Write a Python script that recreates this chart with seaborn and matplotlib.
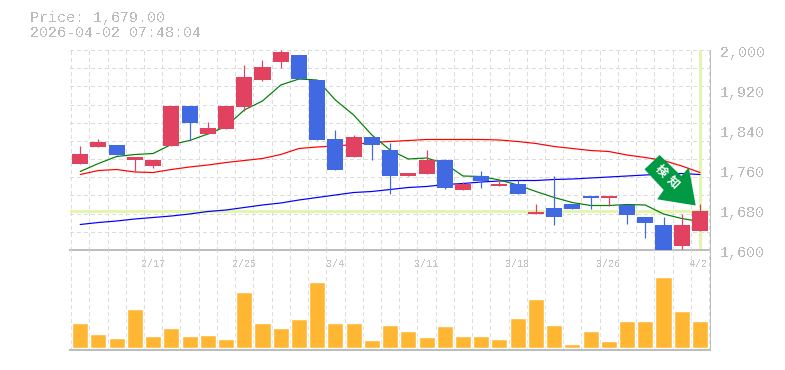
import numpy as np
import pandas as pd
import matplotlib
matplotlib.use("Agg")
import matplotlib.pyplot as plt
from matplotlib.patches import Polygon
from matplotlib.transforms import ScaledTranslation
import seaborn as sns

title_lines = ["Price: 1,679.00", "2026-04-02 07:48:04"]
last_price = 1679
price_ticks = [2000, 1920, 1840, 1760, 1680, 1600]
date_idx = [4, 9, 14, 19, 24, 29, 34]
date_labels = ["2/17", "2/25", "3/4", "3/11", "3/18", "3/26", "4/2"]

opens = [1772, 1806, 1810, 1780, 1768, 1808, 1888, 1832, 1842, 1886, 1940, 1976,
         1990, 1940, 1822, 1786, 1826, 1800, 1748, 1752, 1780, 1720, 1748, 1728,
         1732, 1672, 1684, 1692, 1708, 1704, 1690, 1666, 1650, 1608, 1638]
closes = [1792, 1816, 1790, 1786, 1780, 1888, 1854, 1844, 1888, 1946, 1966, 1996,
          1942, 1820, 1760, 1826, 1810, 1748, 1754, 1780, 1724, 1732, 1738, 1732,
          1712, 1676, 1666, 1682, 1704, 1708, 1670, 1654, 1598, 1650, 1679]
highs = [1808, 1822, 1810, 1786, 1780, 1888, 1888, 1856, 1888, 1970, 1980, 2000,
         1990, 1940, 1840, 1830, 1826, 1814, 1754, 1800, 1782, 1736, 1758, 1740,
         1740, 1692, 1748, 1692, 1708, 1708, 1692, 1666, 1666, 1672, 1692]
lows = [1772, 1806, 1790, 1758, 1764, 1808, 1820, 1832, 1842, 1878, 1938, 1964,
        1942, 1820, 1760, 1786, 1780, 1712, 1748, 1752, 1722, 1720, 1724, 1728,
        1712, 1672, 1650, 1682, 1682, 1688, 1652, 1624, 1598, 1602, 1638]

ma_short = [1757, 1773, 1787, 1791, 1793, 1811, 1819, 1832, 1847, 1880, 1898, 1930,
            1942, 1940, 1900, 1870, 1830, 1800, 1782, 1784, 1773, 1748, 1747, 1740,
            1730, 1717, 1705, 1695, 1689, 1689, 1691, 1690, 1672, 1663, 1657]
ma_mid = [1751, 1759, 1761, 1756, 1755, 1761, 1766, 1770, 1775, 1779, 1783, 1791,
          1803, 1806, 1808, 1811, 1815, 1817, 1819, 1821, 1821, 1821, 1821, 1820,
          1817, 1813, 1807, 1803, 1799, 1797, 1790, 1785, 1779, 1768, 1755]
ma_long = [1651, 1655, 1658, 1662, 1665, 1668, 1672, 1677, 1680, 1685, 1690, 1694,
           1700, 1705, 1710, 1715, 1717, 1721, 1725, 1727, 1731, 1733, 1736, 1738,
           1739, 1739, 1741, 1742, 1744, 1746, 1748, 1750, 1752, 1753, 1751]

volume = [24.7, 13.7, 9.7, 38.7, 11.7, 19.7, 11.7, 12.7, 8.7, 55.7, 24.7, 19.7,
          28.7, 65.7, 24.7, 24.7, 7.7, 22.7, 16.7, 10.7, 21.7, 11.7, 11.7, 8.7,
          29.7, 48.7, 22.7, 3.7, 16.7, 6.7, 26.7, 26.7, 70.7, 36.7, 26.7]

W, H = 785, 370
GRID = "#dcdcdc"
AXIS = "#bdbdbd"
TEXT = "#bbbbbb"
UP = "#e0425f"
DOWN = "#4169e1"
HILITE = "#e4f5ae"
ARROW = "#009944"
PX = 0.72  # one pixel in points at dpi 100

sns.set_theme(style="white")
plt.rcParams["font.family"] = ["Liberation Mono", "DejaVu Sans Mono"]
plt.rcParams["text.antialiased"] = False


def px_font(n):
    return n * PX


df = pd.DataFrame({"idx": range(len(opens)), "open": opens, "close": closes,
                   "high": highs, "low": lows, "short": ma_short, "mid": ma_mid,
                   "long": ma_long, "volume": volume})

fig = plt.figure(figsize=(W / 100, H / 100), dpi=100)
ax = fig.add_axes([70 / W, 1 - 250 / H, 640 / W, 200 / H])
vol = fig.add_axes([70 / W, 1 - 350 / H, 640 / W, 100 / H])

xlim = (-0.56, 34.55)
grid_x = np.arange(len(opens) + 1) - 0.5

# grid
for a in (ax, vol):
    a.set_xlim(*xlim)
    a.set_facecolor("none")
    a.set_axisbelow(True)
    for x in grid_x:
        a.axvline(x, color=GRID, lw=PX, ls=(0, (4, 4)), zorder=0, antialiased=False)
    for s in a.spines.values():
        s.set_visible(False)
    a.spines["right"].set_visible(True)
    a.spines["right"].set_color(AXIS)
    a.spines["right"].set_linewidth(PX)
    a.spines["bottom"].set_visible(True)
    a.spines["bottom"].set_color(AXIS)
    a.spines["bottom"].set_linewidth(PX * 2)

ax.set_ylim(1600, 2000)
for y in np.linspace(1600, 2000, 12)[1:]:
    ax.axhline(y, color=GRID, lw=PX, ls=(0, (4, 4)), zorder=0, antialiased=False)

# current price cross
ax.axhline(last_price, color=HILITE, lw=PX * 3, zorder=1)
ax.plot([34, 34], [1601, 1998], color=HILITE, lw=PX * 3, zorder=1)

# moving averages
for col, color in [("long", "#0000ff"), ("mid", "#ff0000"), ("short", "#008000")]:
    sns.lineplot(data=df, x="idx", y=col, color=color, lw=PX * 1.2, ax=ax, zorder=2,
                 errorbar=None)

# candles
candle_colors = [UP if c >= o else DOWN for o, c in zip(opens, closes)]
ax.vlines(df["idx"], df["low"], df["high"], colors=candle_colors, lw=PX * 1.2, zorder=3)
ax.bar(df["idx"], np.abs(df["close"] - df["open"]), bottom=df[["open", "close"]].min(axis=1),
       width=0.88, color=candle_colors, zorder=4, lw=0)

# volume
sns.barplot(data=df, x="idx", y="volume", native_scale=True, width=0.88, color="#ffb733",
            saturation=1, ax=vol, zorder=2)
vol.set_xlim(*xlim)
vol.set_ylim(-2, 98)
vol.set_yticks([])
vol.set_xlabel("")
vol.set_ylabel("")
vol.xaxis.tick_top()
vol.set_xticks(date_idx, date_labels)
vol.tick_params(axis="x", top=False, length=0, pad=-14, labelsize=px_font(10), labelcolor="#c4c4c4")
last_lab = vol.get_xticklabels()[-1]
last_lab.set_transform(last_lab.get_transform() + ScaledTranslation(-1.5 / 100, 0, fig.dpi_scale_trans))

# price axis labels
ax.set_xticks([])
ax.set_xlabel("")
ax.set_ylabel("")
ax.yaxis.tick_right()
ax.set_yticks(price_ticks, [f"{p:,}" for p in price_ticks])
ax.tick_params(axis="y", right=False, length=0, pad=7.2, labelsize=px_font(15), labelcolor=TEXT)
shift = ScaledTranslation(0, -2 / 100, fig.dpi_scale_trans)
for lab in ax.get_yticklabels():
    lab.set_transform(lab.get_transform() + shift)

# title
fig.text(30 / W, 1 - 18 / H, title_lines[0], color=TEXT, fontsize=px_font(15), va="center")
fig.text(30 / W, 1 - 33 / H, title_lines[1], color=TEXT, fontsize=px_font(15), va="center")

# signal arrow
arrow_px = [(659.6, 155), (644.5, 169.3), (663.7, 190), (657.2, 199.3), (695.7, 205.5),
            (688.8, 167.5), (681.3, 176)]
fig.add_artist(Polygon([(x / W, 1 - y / H) for x, y in arrow_px], closed=True,
                       transform=fig.transFigure, color=ARROW, lw=0, zorder=10))
for ch, (cx, cy) in zip("検知", [(661.5, 170.8), (672, 182.5)]):
    fig.text(cx / W, 1 - cy / H, ch, color="white", fontsize=px_font(12), rotation=-45,
             ha="center", va="center", fontweight="bold", zorder=11, antialiased=True,
             family=["Noto Sans CJK JP", "DejaVu Sans"], rotation_mode="anchor")

fig.savefig("out.png", dpi=100)
plt.close(fig)
